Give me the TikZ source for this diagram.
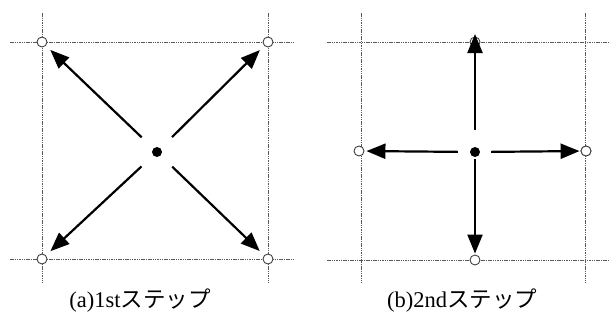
\documentclass[tikz,border=0pt]{standalone}
\usepackage{fontspec}
\setmainfont{Liberation Serif}
\newfontfamily\jp{Noto Sans CJK JP}
\usetikzlibrary{arrows.meta}
\begin{document}
\begin{tikzpicture}[x=1pt,y=-1pt,
 grid/.style={draw=black!65, line width=1pt, dash pattern=on 1.5pt off 0.8pt},
 open/.style={circle, draw=black!75, fill=white, line width=0.9pt, minimum size=10pt, inner sep=0pt},
 ctr/.style={circle, fill=black, minimum size=10pt, inner sep=0pt},
 arr/.style={-{Triangle[length=19pt,width=15pt]}, line width=2.2pt},
 lbl/.style={font=\fontsize{22.5}{22.5}\selectfont, inner sep=0pt}]
\useasboundingbox (0,0) rectangle (609,325);
% ---------- left panel ----------
\draw[grid] (42,13) -- (42,283);
\draw[grid] (268,13) -- (268,283);
\draw[grid] (10,42) -- (293,42);
\draw[grid] (10,259) -- (293,259);
\node[ctr] (ca) at (157,152) {};
\node[open] (a1) at (42,42) {};
\node[open] (a2) at (268,42) {};
\node[open] (a3) at (42,259) {};
\node[open] (a4) at (268,259) {};
\draw[arr, shorten <=16pt, shorten >=6pt] (ca) -- (a1);
\draw[arr, shorten <=16pt, shorten >=6pt] (ca) -- (a2);
\draw[arr, shorten <=16pt, shorten >=6pt] (ca) -- (a3);
\draw[arr, shorten <=16pt, shorten >=6pt] (ca) -- (a4);
\node[lbl] (la) at (140,301) {(a)1st{\jp ステップ}};
% ---------- right panel ----------
\draw[grid] (361,13) -- (361,283);
\draw[grid] (585,13) -- (585,283);
\draw[grid] (327,42) -- (609,42);
\draw[grid] (327,260) -- (609,260);
\node[ctr] (cb) at (475,152) {};
\node[open] (bt) at (475,42) {};
\node[open] (bb) at (475,260) {};
\node[open] (bl) at (359,151) {};
\node[open] (br) at (586,151) {};
\coordinate (btip) at (475,34);
\draw[arr, shorten <=17pt] (cb) -- (btip);
\draw[arr, shorten <=2pt, shorten >=1pt] (cb) -- (bb);
\draw[arr, shorten <=12pt, shorten >=2pt] (cb) -- (bl);
\draw[arr, shorten <=11pt, shorten >=1pt] (cb) -- (br);
\node[open] at (586,151) {};
\node[lbl] (lb) at (462,301) {(b)2nd{\jp ステップ}};
\end{tikzpicture}
\end{document}
